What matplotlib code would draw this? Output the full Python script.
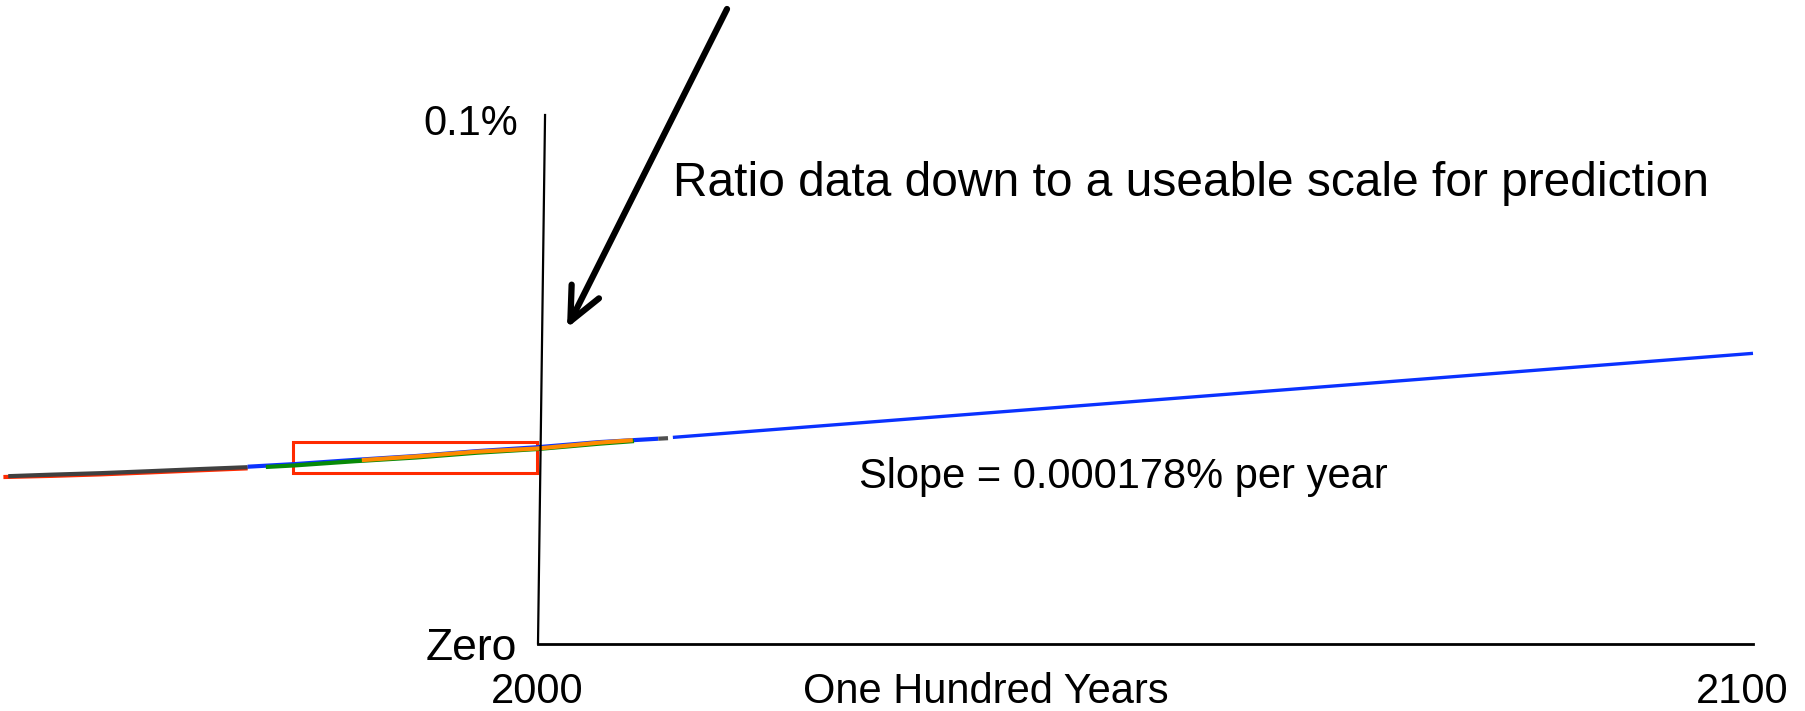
import matplotlib
matplotlib.use("Agg")
import matplotlib.pyplot as plt
from matplotlib.patches import Rectangle

plt.rcParams['font.family'] = ['Liberation Sans', 'DejaVu Sans']

# ---- data (fraction of atmosphere, in %) ----
red_years = [1956.0, 1960, 1964, 1968, 1972, 1976.1]
red_vals = [0.03150, 0.03172, 0.03200, 0.03237, 0.03276, 0.03314]

gray_years = [1956.4, 1960, 1964, 1968, 1972, 1976.1]
gray_vals = [0.03166, 0.03195, 0.03223, 0.03260, 0.03299, 0.03336]

blue_years = [1976.1, 1980, 1985, 1990, 1995, 2000, 2005, 2009.9]
blue_vals = [0.03345, 0.03395, 0.03475, 0.03548, 0.03640, 0.03715, 0.03810, 0.03875]

green_years = [1977.6, 1980, 1985, 1990, 1995, 2000, 2005, 2007.9]
green_vals = [0.03340, 0.03370, 0.03450, 0.03520, 0.03610, 0.03680, 0.03780, 0.03830]

orange_years = [1985.5, 1990, 1995, 2000, 2005, 2007.8]
orange_vals = [0.03470, 0.03540, 0.03630, 0.03690, 0.03800, 0.03847]

gray2_years = [2009.9, 2010.7]
gray2_vals = [0.03875, 0.03885]

trend_years = [2011.1, 2100]
trend_vals = [0.03900, 0.05490]

box_years = [1979.8, 1999.9]
box_vals = [0.03224, 0.03810]

x_labels = ["2000", "2100"]

W, H = 1805, 711
fig = plt.figure(figsize=(W / 100, H / 100), dpi=100)
ax = fig.add_axes([0, 0, 1, 1])
ax.axis('off')

ppy = (1753 - 538) / 100.0
ppv = (643.5 - 115) / 0.1
ax.set_xlim(2000 - 538 / ppy, 2100 + (W - 1753) / ppy)
ax.set_ylim(-(H - 643.5) / ppv, 643.5 / ppv)

lw = 3.0
ax.plot(red_years, red_vals, color='#ff2a00', lw=lw, solid_capstyle='butt')
ax.plot(gray_years, gray_vals, color='#404040', lw=lw, solid_capstyle='butt')
ax.plot(blue_years, blue_vals, color='#0a32ff', lw=lw, solid_capstyle='butt')
ax.plot(green_years, green_vals, color='#078a07', lw=lw, solid_capstyle='butt')
ax.plot(orange_years, orange_vals, color='#ff8a00', lw=lw, solid_capstyle='butt')
ax.plot(gray2_years, gray2_vals, color='#505050', lw=lw, solid_capstyle='butt')
ax.plot(trend_years, trend_vals, color='#0a32ff', lw=2.4, solid_capstyle='butt')

ax.add_patch(Rectangle((box_years[0], box_vals[0]), box_years[1] - box_years[0],
                       box_vals[1] - box_vals[0], fill=False, ec='#ff2a00', lw=2.2))

# axes lines
ax.plot([2000.58, 2000.0], [0.1, 0.0], color='black', lw=1.6)
ax.plot([2000.0, 2100], [0.0, 0.0], color='black', lw=2.0)


def P(x, y):
    return (x / W, 1 - y / H)


fs = 30
fig.text(*P(518, 135), "0.1%", ha='right', va='baseline', fontsize=fs)
fig.text(*P(517, 660), "Zero", ha='right', va='baseline', fontsize=32)
fig.text(*P(537, 703), x_labels[0], ha='center', va='baseline', fontsize=fs)
fig.text(*P(1742, 703), x_labels[1], ha='center', va='baseline', fontsize=fs)
fig.text(*P(986, 703), "One Hundred Years", ha='center', va='baseline', fontsize=fs)
fig.text(*P(859, 488), "Slope = 0.000178% per year", ha='left', va='baseline', fontsize=fs)
fig.text(*P(673, 196), "Ratio data down to a useable scale for prediction",
         ha='left', va='baseline', fontsize=34.5)

ax.annotate("", xy=P(567, 328), xycoords='figure fraction',
            xytext=P(727, 9), textcoords='figure fraction',
            arrowprops=dict(arrowstyle="->,head_length=1.2,head_width=0.55",
                            mutation_scale=20, lw=4.5, color='black',
                            shrinkA=0, shrinkB=0))

fig.savefig("out.png", dpi=100)
